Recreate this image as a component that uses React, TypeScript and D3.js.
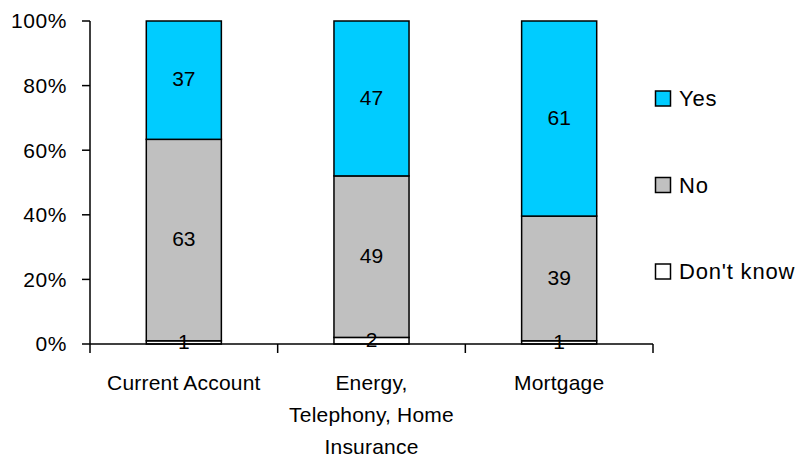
import React from "react";
import * as d3 from "d3";

const categories = ["Current Account", "Energy, Telephony, Home Insurance", "Mortgage"];
const categoryLines = [["Current Account"], ["Energy,", "Telephony, Home", "Insurance"], ["Mortgage"]];
const seriesNames = ["Don't know", "No", "Yes"];
const dontKnow = [1, 2, 1];
const no = [63, 49, 39];
const yes = [37, 47, 61];
const yTicks = [0, 0.2, 0.4, 0.6, 0.8, 1];
const legendOrder = ["Yes", "No", "Don't know"];
const colors: Record<string, string> = { "Don't know": "#FFFFFF", No: "#C0C0C0", Yes: "#00CCFF" };

const W = 806;
const H = 459;
const margin = { left: 90, right: 153, top: 21, bottom: 115 };
const font = "'Liberation Sans', Arial, sans-serif";

export default function App() {
  const x = d3
    .scaleBand<string>()
    .domain(categories)
    .range([margin.left, W - margin.right])
    .paddingInner(0.6)
    .paddingOuter(0.3);
  const y = d3.scaleLinear().domain([0, 1]).range([H - margin.bottom, margin.top]);

  const rows = categories.map((c, i) => ({ cat: c, "Don't know": dontKnow[i], No: no[i], Yes: yes[i] }));
  // 100% stacked: each column is scaled by its own total
  const normalized = rows.map((r) => {
    const total = r["Don't know"] + r.No + r.Yes;
    return { cat: r.cat, "Don't know": r["Don't know"] / total, No: r.No / total, Yes: r.Yes / total, raw: r };
  });
  const stacked = d3.stack<any>().keys(seriesNames)(normalized);

  const y0 = y(0);
  const step = x.step();

  return (
    <svg width={W} height={H} style={{ position: "absolute", left: 0, top: 0, background: "#fff" }}>
      {/* bars */}
      {stacked.map((layer) =>
        layer.map((d, i) => (
          <rect
            key={layer.key + i}
            x={x(categories[i])!}
            y={y(d[1])}
            width={x.bandwidth()}
            height={y(d[0]) - y(d[1])}
            fill={colors[layer.key]}
            stroke="#000"
            strokeWidth={1.5}
          />
        ))
      )}
      {/* value labels */}
      {stacked.map((layer) =>
        layer.map((d, i) => (
          <text
            key={"l" + layer.key + i}
            x={x(categories[i])! + x.bandwidth() / 2}
            y={(y(d[0]) + y(d[1])) / 2}
            dy="0.3em"
            textAnchor="middle"
            fontFamily={font}
            fontSize={21}
            fill="#000"
          >
            {(d.data as any).raw[layer.key]}
          </text>
        ))
      )}
      {/* y axis */}
      <line x1={margin.left} x2={margin.left} y1={y(1)} y2={y0 + 9} stroke="#000" strokeWidth={1.5} />
      {yTicks.map((t) => (
        <g key={t}>
          <line x1={margin.left - 8} x2={margin.left} y1={y(t)} y2={y(t)} stroke="#000" strokeWidth={1.5} />
          <text
            x={67}
            y={y(t)}
            dy="0.35em"
            textAnchor="end"
            fontFamily={font}
            fontSize={21}
            letterSpacing={0.6}
            fill="#000"
          >
            {d3.format(".0%")(t)}
          </text>
        </g>
      ))}
      {/* x axis */}
      <line x1={margin.left} x2={W - margin.right} y1={y0} y2={y0} stroke="#000" strokeWidth={1.5} />
      {categories.map((c, i) => (
        <line
          key={"t" + c}
          x1={margin.left + step * (i + 1)}
          x2={margin.left + step * (i + 1)}
          y1={y0}
          y2={y0 + 9}
          stroke="#000"
          strokeWidth={1.5}
        />
      ))}
      {categories.map((c, i) => {
        const cx = x(c)! + x.bandwidth() / 2;
        return (
          <text key={"c" + c} textAnchor="middle" fontFamily={font} fontSize={21} letterSpacing={0.2} fill="#000">
            {categoryLines[i].map((ln, j) => (
              <tspan key={j} x={cx} y={y0 + 46 + j * 32}>
                {ln}
              </tspan>
            ))}
          </text>
        );
      })}
      {/* legend */}
      {legendOrder.map((s, i) => {
        const ly = 91 + i * 86.5;
        return (
          <g key={"lg" + s}>
            <rect x={655.5} y={ly} width={15} height={15} fill={colors[s]} stroke="#000" strokeWidth={1.5} />
            <text x={679} y={ly + 7.5} dy="0.35em" fontFamily={font} fontSize={22} letterSpacing={0.8} fill="#000">
              {s}
            </text>
          </g>
        );
      })}
    </svg>
  );
}
